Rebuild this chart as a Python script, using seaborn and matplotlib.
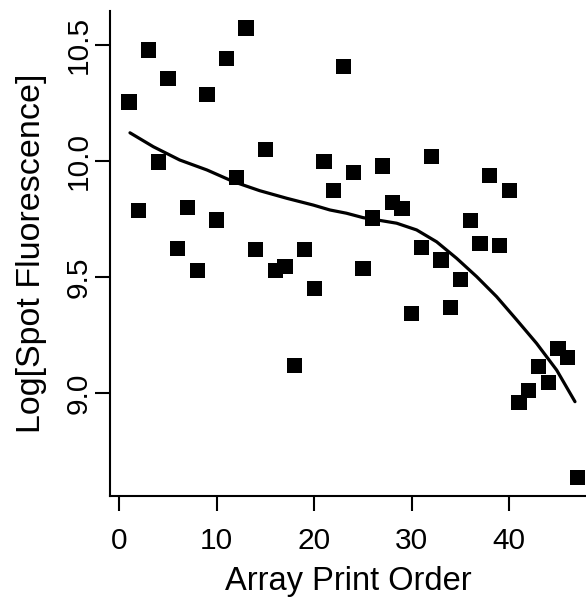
import numpy as np
import pandas as pd
import seaborn as sns
import matplotlib
matplotlib.use("Agg")
import matplotlib.pyplot as plt

# spot values by print order
print_order = list(range(1, 48))
log_fluor = [10.253, 9.787, 10.476, 9.994, 10.353, 9.623, 9.799, 9.527, 10.284, 9.745,
             10.439, 9.927, 10.571, 9.619, 10.049, 9.527, 9.544, 9.120, 9.619, 9.450,
             9.998, 9.871, 10.407, 9.948, 9.535, 9.753, 9.977, 9.819, 9.795, 9.343,
             9.627, 10.017, 9.573, 9.367, 9.490, 9.741, 9.645, 9.935, 9.636, 9.871,
             8.960, 9.010, 9.114, 9.045, 9.191, 9.152, 8.636]

# smooth trend
trend_x = [1.1, 3.5, 6.2, 9.0, 11.7, 14.4, 17.2, 19.9, 21.6, 23.3, 25.0, 28.45, 30.5,
           32.55, 34.6, 36.66, 38.7, 40.76, 42.8, 44.86, 46.74]
trend_y = [10.120, 10.060, 10.003, 9.960, 9.910, 9.871, 9.838, 9.809, 9.788, 9.774,
           9.755, 9.731, 9.702, 9.651, 9.580, 9.501, 9.415, 9.315, 9.214, 9.099, 8.963]

x_ticks = [0, 10, 20, 30, 40]
y_ticks = [9.0, 9.5, 10.0, 10.5]

df = pd.DataFrame({"order": print_order, "fluor": log_fluor})
trend = pd.DataFrame({"order": trend_x, "fluor": trend_y})

sns.set_style("ticks")
plt.rcParams["font.family"] = ["Liberation Sans", "DejaVu Sans"]
plt.rcParams["text.color"] = "black"

fig = plt.figure(figsize=(5.86, 6.0), dpi=100)
ax = fig.add_axes([0.1877, 0.1733, 0.8123, 0.8083])

sns.scatterplot(data=df, x="order", y="fluor", marker="s", s=120, color="black",
                edgecolor="none", ax=ax, zorder=3)
sns.lineplot(data=trend, x="order", y="fluor", color="black", linewidth=2.3, ax=ax,
             zorder=2)

ax.set_xlim(-0.95, 47.87)
ax.set_ylim(8.557, 10.644)
ax.set_xticks(x_ticks)
ax.set_xticklabels([str(t) for t in x_ticks])
ax.set_yticks(y_ticks)
ax.set_yticklabels([f"{t:.1f}" for t in y_ticks], rotation=90, va="center")

for side in ["top", "right"]:
    ax.spines[side].set_visible(False)
for side in ["left", "bottom"]:
    ax.spines[side].set_linewidth(1.5)
    ax.spines[side].set_color("black")

ax.tick_params(axis="both", length=11, width=1.5, labelsize=21.5, colors="black",
               labelcolor="black")
ax.tick_params(axis="x", pad=11.5)
ax.tick_params(axis="y", pad=1.5)
ax.set_xlabel("Array Print Order", fontsize=23.5, labelpad=8, color="black")
ax.set_ylabel("Log[Spot Fluorescence]", fontsize=24.5, labelpad=13, color="black")

fig.savefig("out.png", dpi=100)
